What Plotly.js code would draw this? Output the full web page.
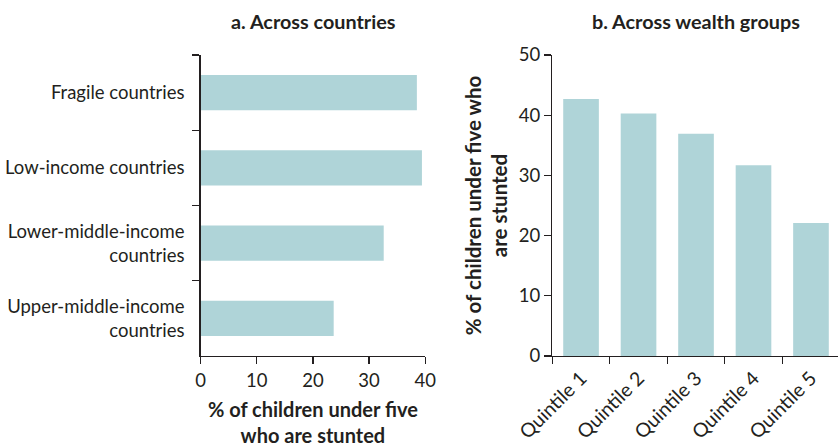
<!DOCTYPE html>
<html>
<head>
<meta charset="utf-8">
<script src="https://cdn.plot.ly/plotly-3.0.1.min.js"></script>
<style>html,body{margin:0;padding:0;background:#fff;}#chart{width:838px;height:447px;}</style>
</head>
<body>
<div id="chart"></div>
<script>
const countryGroups = ["Fragile countries", "Low-income countries", "Lower-middle-income<br>countries", "Upper-middle-income<br>countries"];
const countryStunting = [38.5, 39.4, 32.6, 23.7];
const quintiles = ["Quintile 1", "Quintile 2", "Quintile 3", "Quintile 4", "Quintile 5"];
const quintileStunting = [42.7, 40.3, 36.9, 31.7, 22.1];
const titleA = "a. Across countries";
const titleB = "b. Across wealth groups";
const xTitleA = "% of children under five<br>who are stunted";
const yTitleB = "% of children under five who<br>are stunted";

const barColor = "#AFD4D8";
const ink = "#231F20";
const fam = "Lato, 'Open Sans', sans-serif";

const traces = [
  {type: "bar", orientation: "h", x: countryStunting, y: countryGroups, xaxis: "x", yaxis: "y",
   marker: {color: barColor}, width: 0.47, hoverinfo: "x+y"},
  {type: "bar", x: quintiles, y: quintileStunting, xaxis: "x2", yaxis: "y2",
   marker: {color: barColor}, width: 0.62, hoverinfo: "x+y"}
];

const yDom = [(447 - 356) / 447, (447 - 55) / 447];
const layout = {
  width: 838, height: 447,
  margin: {l: 0, r: 0, t: 0, b: 0},
  paper_bgcolor: "#fff", plot_bgcolor: "#fff",
  showlegend: false,
  font: {family: fam, color: ink, size: 18},
  xaxis: {
    domain: [200.5 / 838, 425.3 / 838], range: [0, 40], tickvals: [0, 10, 20, 30, 40],
    showgrid: false, zeroline: false, showline: true, linecolor: ink, linewidth: 1.3,
    ticks: "outside", ticklen: 7, tickwidth: 1.3, tickcolor: ink,
    tickfont: {size: 18.5}, anchor: "y",
    title: {text: "<b>" + xTitleA + "</b>", font: {size: 20}, standoff: 15}
  },
  yaxis: {
    domain: yDom, type: "category", range: [3.5, -0.5], anchor: "x",
    showgrid: false, zeroline: false, showline: true, linecolor: ink, linewidth: 1.3,
    ticks: "outside", ticklen: 7, tickwidth: 1.3, tickcolor: ink, tickson: "boundaries",
    tickfont: {size: 18.5}, ticklabelstandoff: 11
  },
  xaxis2: {
    domain: [552.3 / 838, 1], range: [-0.5, 4.47], type: "category", anchor: "y2",
    showgrid: false, zeroline: false, showline: true, linecolor: ink, linewidth: 1.3,
    ticks: "outside", ticklen: 7, tickwidth: 1.3, tickcolor: ink, tickson: "boundaries",
    tickangle: -45, tickfont: {size: 19.5}, ticklabelstandoff: 2
  },
  yaxis2: {
    domain: yDom, range: [0, 50], tickvals: [0, 10, 20, 30, 40, 50], anchor: "x2",
    showgrid: false, zeroline: false, showline: true, linecolor: ink, linewidth: 1.3,
    ticks: "outside", ticklen: 7, tickwidth: 1.3, tickcolor: ink,
    tickfont: {size: 18.5},
    title: {text: "<b>" + yTitleB + "</b>", font: {size: 20.5}, standoff: 5}
  },
  annotations: [
    {text: "<b>" + titleA + "</b>", xref: "paper", yref: "paper", x: 313 / 838, y: (447 - 21) / 447,
     xanchor: "center", yanchor: "middle", showarrow: false, font: {size: 19.8}},
    {text: "<b>" + titleB + "</b>", xref: "paper", yref: "paper", x: 696 / 838, y: (447 - 21) / 447,
     xanchor: "center", yanchor: "middle", showarrow: false, font: {size: 19.8}}
  ]
};

Plotly.newPlot("chart", traces, layout, {displayModeBar: false, staticPlot: true});
</script>
</body>
</html>
